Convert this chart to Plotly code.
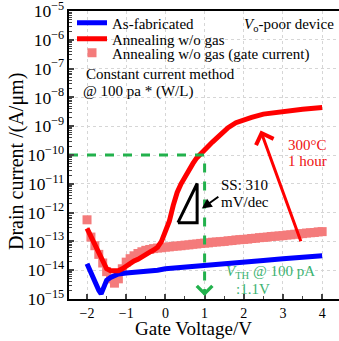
import numpy as np
import plotly.graph_objects as go

FONT = "Liberation Serif, Times New Roman, DejaVu Serif, serif"

# ---- data (log10 of current in A/um) ----
blue_x = [-2.0, -1.9, -1.8, -1.7, -1.64, -1.58, -1.5, -1.4, -1.2, -1.0, -0.6, -0.2, 0.0,
          0.5, 1.0, 1.5, 2.0, 2.5, 3.0, 3.5, 4.0]
blue_log = [-13.78, -14.1, -14.4, -14.7, -14.82, -14.6, -14.35, -14.25, -14.13, -14.1, -14.07,
            -14.0, -13.95, -13.9, -13.83, -13.78, -13.72, -13.66, -13.6, -13.55, -13.5]

red_x = [-2.0, -1.9, -1.8, -1.7, -1.6, -1.5, -1.4, -1.3, -1.2, -1.1, -1.0, -0.9, -0.8, -0.7,
         -0.6, -0.5, -0.4, -0.3, -0.2, -0.1, 0.0, 0.1, 0.2, 0.3, 0.4, 0.5, 0.6, 0.7, 0.8, 0.9,
         1.0, 1.2, 1.4, 1.6, 1.8, 2.0, 2.2, 2.5, 3.0, 3.5, 4.0]
red_log = [-12.55, -12.85, -13.15, -13.45, -13.72, -13.95, -14.02, -14.03, -14.02, -13.95,
           -13.85, -13.75, -13.68, -13.62, -13.52, -13.43, -13.37, -13.3, -13.2, -13.0,
           -12.65, -12.3, -11.75, -11.3, -11.0, -10.75, -10.5, -10.3, -10.1, -9.95,
           -9.82, -9.55, -9.3, -9.05, -8.88, -8.78, -8.69, -8.58, -8.48, -8.41, -8.35]

pink_x = [round(-2.0 + 0.1 * i, 1) for i in range(61)]
pink_log = [-12.25, -12.85, -13.15, -13.45, -13.75, -14.05, -14.3, -14.45, -14.3, -13.95,
            -13.72, -13.6, -13.5, -13.42, -13.36, -13.31, -13.28, -13.25, -13.23, -13.22,
            -13.2, -13.19, -13.17, -13.16, -13.15, -13.13, -13.12, -13.1, -13.09, -13.07,
            -13.06, -13.05, -13.03, -13.02, -13.01, -13.0, -12.98, -12.97, -12.95, -12.94,
            -12.93, -12.92, -12.9, -12.89, -12.87, -12.86, -12.85, -12.83, -12.82, -12.81,
            -12.8, -12.78, -12.77, -12.75, -12.74, -12.73, -12.71, -12.7, -12.69, -12.67,
            -12.66]

# threshold construction
vth_v = 1.0
ith = 1e-10

# SS triangle (V, log10 I)
tri_x = [0.32, 0.81, 0.81, 0.32]
tri_log = [-12.35, -12.35, -10.99, -12.35]

XR = [-2.46, 4.43]
YR = [-15, -5]
W, H = 339, 341
ML, MR, MT, MB = 69, 0, 11, 42
PW, PH = W - ML - MR, H - MT - MB


def px(x):
    return (x - ML) / PW


def py(y):
    return (H - MB - y) / PH


GREEN = "#22b14c"

fig = go.Figure()
fig.add_trace(go.Scatter(x=pink_x, y=10 ** np.array(pink_log), mode="markers",
                         marker=dict(symbol="square", size=9, color="#f47b7b"),
                         name="Annealing w/o gas (gate current)", legend="legend3"))
fig.add_trace(go.Scatter(x=blue_x, y=10 ** np.array(blue_log), mode="lines",
                         line=dict(color="#0000ff", width=5), name="As-fabricated",
                         legend="legend"))
fig.add_trace(go.Scatter(x=red_x, y=10 ** np.array(red_log), mode="lines",
                         line=dict(color="#ff0000", width=5), name="Annealing w/o gas",
                         legend="legend2"))
fig.add_trace(go.Scatter(x=[XR[0], vth_v, vth_v], y=[ith, ith, 10 ** -14.85], mode="lines",
                         line=dict(color=GREEN, width=3, dash="dash"), showlegend=False))
fig.add_trace(go.Scatter(x=tri_x, y=10 ** np.array(tri_log), mode="lines",
                         line=dict(color="black", width=3), showlegend=False))

ann = []
def text(s, x, y, color="black", size=15, xanchor="left"):
    ann.append(dict(text=s, x=px(x), y=py(y), xref="paper", yref="paper", showarrow=False,
                    xanchor=xanchor, yanchor="middle", font=dict(family=FONT, size=size, color=color)))

text("Constant current method", 84, 74)
text("@ 100 pa * (W/L)", 81, 91)
text("<i>V</i><sub>o</sub>-poor device", 242, 25)
text("300°C", 286, 145, color="#ee1111")
text("1 hour", 286, 161, color="#ee1111")
text("SS: 310", 219, 185)
text("mV/dec", 219, 202)
text("<i>V</i><sub>TH</sub> @ 100 pA", 224, 272, color="#3cb371")
text(":1.1V", 234, 289, color="#3cb371")
text("Gate Voltage/V", 193, 328, size=19, xanchor="center")
ann.append(dict(text="Drain current /(A/μm)", x=px(16), y=py(162), xref="paper", yref="paper",
                showarrow=False, textangle=-90, xanchor="center", yanchor="middle",
                font=dict(family=FONT, size=20, color="black")))

# arrows
ann.append(dict(x=2.43, y=-9.15, ax=3.47, ay=-13.05, xref="x", yref="y", axref="x", ayref="y",
                showarrow=True, arrowhead=4, arrowsize=1.2, arrowwidth=3, arrowcolor="#ff0000", text=""))
ann.append(dict(x=0.93, y=-11.86, ax=1.39, ay=-11.41, xref="x", yref="y", axref="x", ayref="y",
                showarrow=True, arrowhead=2, arrowsize=1, arrowwidth=2, arrowcolor="black", text=""))
ann.append(dict(x=vth_v, y=-14.9, ax=vth_v, ay=-14.6, xref="x", yref="y", axref="x", ayref="y",
                showarrow=True, arrowhead=4, arrowsize=1.2, arrowwidth=2.5, arrowcolor=GREEN, text=""))

legfont = dict(family=FONT, size=15, color="black")
def leg(y):
    return dict(x=px(72), y=py(y), xanchor="left", yanchor="middle", bgcolor="rgba(0,0,0,0)",
                font=legfont, itemwidth=30)

fig.update_layout(
    width=W, height=H, margin=dict(l=ML, r=MR, t=MT, b=MB),
    paper_bgcolor="white", plot_bgcolor="white",
    font=dict(family=FONT, color="black"),
    annotations=ann,
    legend=leg(23), legend2=leg(39), legend3=leg(53),
    xaxis=dict(range=XR, dtick=1, tick0=0, ticks="inside", ticklen=5, tickwidth=1.5,
               minor=dict(ticks="inside", dtick=0.5, ticklen=3, tickwidth=1.2, showgrid=False),
               showgrid=True, gridcolor="#d6d6d6", griddash="dot", gridwidth=1,
               showline=True, linecolor="black", linewidth=2, mirror=True, zeroline=False,
               tickfont=dict(family=FONT, size=14)),
    yaxis=dict(type="log", range=YR, dtick=1, exponentformat="power", ticks="inside",
               ticklen=5, tickwidth=1.5, ticklabeloverflow="allow",
               minor=dict(ticks="inside", dtick="D1", ticklen=3, tickwidth=1, showgrid=False),
               showgrid=True, gridcolor="#d6d6d6", griddash="dot", gridwidth=1,
               showline=True, linecolor="black", linewidth=2, zeroline=False,
               tickfont=dict(family=FONT, size=14)),
)

fig.write_html("out.html")
